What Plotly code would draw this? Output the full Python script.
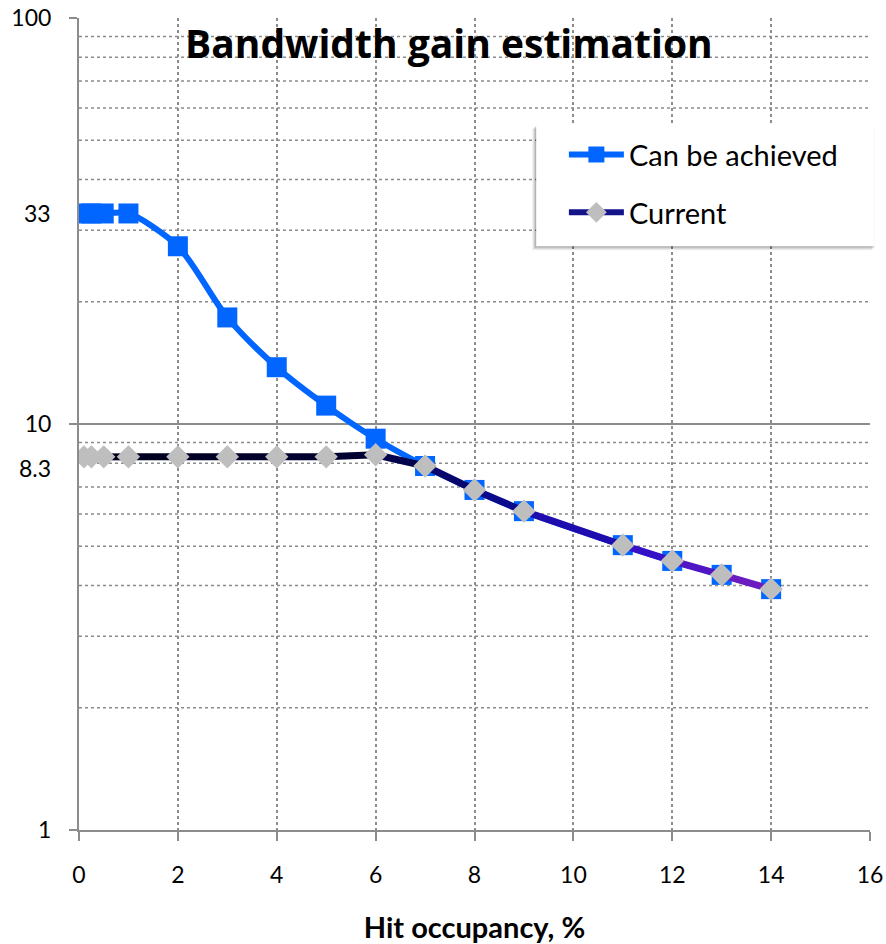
import math
import plotly.graph_objects as go

# ---- data ----
occupancy = [0.1, 0.25, 0.5, 1, 2, 3, 4, 5, 6, 7, 8, 9, 11, 12, 13, 14]
achieved = [33, 33, 33, 33, 27.4, 18.3, 13.8, 11.1, 9.2, 7.88, 6.88, 6.1, 5.03, 4.6, 4.25, 3.92]
current = [8.3, 8.3, 8.3, 8.3, 8.3, 8.3, 8.3, 8.3, 8.4, 7.88, 6.88, 6.1, 5.03, 4.6, 4.25, 3.92]
y_major = [1, 10, 100]
y_minor = [2, 3, 4, 5, 6, 7, 8, 9, 20, 30, 40, 50, 60, 70, 80, 90]
y_marked = [33, 8.3]
x_ticks = [0, 2, 4, 6, 8, 10, 12, 14, 16]

FONT = "Lato"
GRID = "#8c8c8c"

# gradient stops for the "Current" line (fraction along x, rgb)
grad = [(0.0, (0, 0, 25)), (0.4, (0, 0, 50)), (0.6, (10, 10, 140)),
        (0.8, (45, 16, 200)), (1.0, (122, 30, 190))]


def grad_color(t):
    for (t0, c0), (t1, c1) in zip(grad[:-1], grad[1:]):
        if t <= t1:
            f = (t - t0) / (t1 - t0) if t1 > t0 else 0
            c = [round(a + (b - a) * f) for a, b in zip(c0, c1)]
            return f"rgb({c[0]},{c[1]},{c[2]})"
    c = grad[-1][1]
    return f"rgb({c[0]},{c[1]},{c[2]})"


fig = go.Figure()

fig.add_trace(go.Scatter(
    x=occupancy, y=achieved, name="Can be achieved", mode="lines+markers",
    line=dict(color="#0066FF", width=6, shape="spline", smoothing=0.8),
    marker=dict(symbol="square", size=20, color="#0066FF"),
    legendgroup="a",
))

xmin, xmax = occupancy[0], occupancy[-1]
for i in range(len(occupancy) - 1):
    xm = (occupancy[i] + occupancy[i + 1]) / 2
    t = (xm - xmin) / (xmax - xmin)
    fig.add_trace(go.Scatter(
        x=occupancy[i:i + 2], y=current[i:i + 2], mode="lines",
        line=dict(color=grad_color(t), width=7),
        showlegend=False, hoverinfo="skip",
    ))

fig.add_trace(go.Scatter(
    x=occupancy, y=current, name="Current", mode="markers",
    marker=dict(symbol="diamond", size=18, color="#BEBEBE"),
    showlegend=False,
))
# legend entry for Current
fig.add_trace(go.Scatter(
    x=[None], y=[None], name="Current", mode="lines+markers",
    line=dict(color="#14148a", width=6),
    marker=dict(symbol="diamond", size=18, color="#BEBEBE"),
    legendgroup="c",
))

shapes = []
# minor horizontal dotted grid
for v in y_minor:
    shapes.append(dict(type="line", xref="paper", x0=0, x1=1, yref="y", y0=v, y1=v,
                       line=dict(color=GRID, width=1.5, dash="dot"), layer="below"))
# legend box + soft shadow (bottom-left)
for k, a in [(4, 0.06), (3, 0.08), (2, 0.10), (1, 0.12)]:
    shapes.append(dict(type="rect", xref="paper", yref="paper",
                       x0=0.578 - k / 791, x1=1.006 - k / 791 + 1 / 791,
                       y0=0.719 - k / 812, y1=0.867 - k / 812 + 1 / 812,
                       fillcolor=f"rgba(0,0,0,{a})", line=dict(width=0), layer="above"))
shapes.append(dict(type="rect", xref="paper", yref="paper",
                   x0=0.578, x1=1.006, y0=0.719, y1=0.867,
                   fillcolor="white", line=dict(width=0), layer="above"))

annotations = [
    dict(text="<b>Bandwidth gain estimation</b>", xref="paper", yref="paper",
         x=0.468, y=0.970, xanchor="center", yanchor="middle", showarrow=False,
         font=dict(family="Open Sans", size=39, color="black")),
]
for v, sh in zip(y_marked, [0, -11]):
    annotations.append(dict(text=str(v), xref="paper", yref="y", x=-0.033, y=math.log10(v),
                            xanchor="right", yanchor="middle", showarrow=False, yshift=sh,
                            font=dict(family=FONT, size=23, color="black")))

fig.update_layout(
    width=886, height=944,
    margin=dict(l=79, r=16, t=18, b=114),
    paper_bgcolor="white", plot_bgcolor="white",
    font=dict(family=FONT, size=23, color="black"),
    shapes=shapes, annotations=annotations,
    showlegend=True,
    legend=dict(x=0.613, y=0.863, xanchor="left", yanchor="top",
                bgcolor="rgba(0,0,0,0)", borderwidth=0,
                font=dict(family=FONT, size=29, color="black"),
                itemwidth=55, tracegroupgap=17),
    xaxis=dict(range=[0, 16], tickvals=x_ticks, showgrid=True, gridcolor=GRID,
               griddash="dot", gridwidth=1.5, showline=True, linecolor=GRID, linewidth=2,
               ticks="outside", ticklen=9, tickcolor=GRID, tickwidth=2,
               ticklabelstandoff=14, zeroline=False, automargin=False,
               title=dict(text="<b>Hit occupancy, %</b>", standoff=33,
                          font=dict(family=FONT, size=29))),
    yaxis=dict(type="log", range=[0, 2], tickvals=y_major, ticktext=[str(v) for v in y_major],
               showgrid=True, gridcolor=GRID, gridwidth=2, showline=True, linecolor=GRID,
               linewidth=2, ticks="outside", ticklen=8, tickcolor=GRID, tickwidth=2,
               ticklabelstandoff=13, zeroline=False, automargin=False),
)

fig.write_html(
    "out.html",
    config={"displayModeBar": False},
    post_script="document.body.style.margin='0px';document.body.style.overflow='hidden';",
)
